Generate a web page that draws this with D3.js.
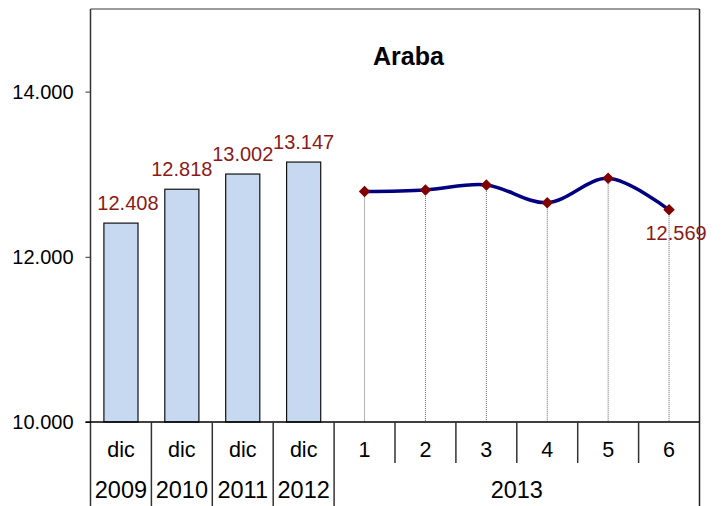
<!DOCTYPE html>
<html><head><meta charset="utf-8">
<script src="https://cdn.jsdelivr.net/npm/d3@7"></script>
<style>html,body{margin:0;padding:0;background:#fff;}svg{display:block;font-family:"Liberation Sans",Arial,sans-serif;}</style>
</head><body>
<svg id="c" width="723" height="506"></svg>
<script>
const title = "Araba";
const categories = ["dic","dic","dic","dic","1","2","3","4","5","6"];
const yearLabels = ["2009","2010","2011","2012","2013"];
const barValues = [12408, 12818, 13002, 13147];
const barLabels = ["12.408","12.818","13.002","13.147"];
const monthValues = [12790, 12810, 12870, 12655, 12950, 12569];
const monthLabels = ["","","","","","12.569"];
const yTicks = [10000, 12000, 14000];
const yTickLabels = ["10.000","12.000","14.000"];

const svg = d3.select("#c");
const L = 90.5, R = 699.5, T = 9, B = 422;
const x = d3.scaleBand().domain(d3.range(categories.length)).range([L, R]).padding(0);
const y = d3.scaleLinear().domain([10000, 15000]).range([B, T]);
const bw = x.bandwidth();
const cx = i => x(i) + bw / 2;
const labelColor = "#8B1A1A";

// plot frame
svg.append("line").attr("x1", L).attr("x2", R).attr("y1", T).attr("y2", T).attr("stroke", "#7a7a7a").attr("stroke-width", 1.5);
svg.append("line").attr("x1", R).attr("x2", R).attr("y1", T).attr("y2", 506).attr("stroke", "#222").attr("stroke-width", 1.5);

// y axis
const yAxis = d3.axisLeft(y).tickValues(yTicks).tickFormat((d, i) => yTickLabels[i]).tickSize(5).tickPadding(12);
const ya = svg.append("g").attr("transform", `translate(${L},0)`).call(yAxis);
ya.select(".domain").remove();
ya.selectAll(".tick line").attr("stroke", "#333");
ya.selectAll(".tick text").attr("font-size", 20).attr("fill", "#000").attr("font-family", "Liberation Sans, Arial, sans-serif");
svg.append("line").attr("x1", L).attr("x2", L).attr("y1", T).attr("y2", 506).attr("stroke", "#333").attr("stroke-width", 1.5);

// bars
svg.selectAll("rect.bar").data(barValues).enter().append("rect")
  .attr("x", (d, i) => cx(i) - bw * 0.28)
  .attr("width", bw * 0.56)
  .attr("y", d => y(d))
  .attr("height", d => B - y(d))
  .attr("fill", "#C6D9F0").attr("stroke", "#111").attr("stroke-width", 1.2);
svg.selectAll("text.blab").data(barValues).enter().append("text")
  .attr("x", (d, i) => cx(i) + (i === 0 ? 7 : 0))
  .attr("y", d => y(d) - 13)
  .attr("text-anchor", "middle").attr("font-size", 20).attr("fill", labelColor)
  .text((d, i) => barLabels[i]);

// drop lines
const mIdx = monthValues.map((v, i) => i + barValues.length);
svg.selectAll("line.drop").data(monthValues).enter().append("line")
  .attr("x1", (d, i) => cx(mIdx[i])).attr("x2", (d, i) => cx(mIdx[i]))
  .attr("y1", d => y(d)).attr("y2", B)
  .attr("stroke", "#666").attr("stroke-width", 1).attr("stroke-dasharray", "1,1");

// smooth line
const line = d3.line().x((d, i) => cx(mIdx[i])).y(d => y(d)).curve(d3.curveCatmullRom.alpha(0.5));
svg.append("path").datum(monthValues).attr("d", line)
  .attr("fill", "none").attr("stroke", "#000080").attr("stroke-width", 3.5);

// markers
svg.selectAll("path.mk").data(monthValues).enter().append("path")
  .attr("d", d3.symbol().type(d3.symbolSquare).size(66))
  .attr("transform", (d, i) => `translate(${cx(mIdx[i])},${y(d)}) rotate(45)`)
  .attr("fill", "#800000");
svg.selectAll("text.mlab").data(monthValues).enter().append("text")
  .attr("x", (d, i) => cx(mIdx[i]) + 7)
  .attr("y", d => y(d) + 30)
  .attr("text-anchor", "middle").attr("font-size", 20).attr("fill", labelColor)
  .text((d, i) => monthLabels[i]);

// x axis line
svg.append("line").attr("x1", L - 5).attr("x2", R).attr("y1", B).attr("y2", B).attr("stroke", "#000").attr("stroke-width", 1.5);

// category separators
const seps = d3.range(1, categories.length);
svg.selectAll("line.sep").data(seps).enter().append("line")
  .attr("x1", d => x(d)).attr("x2", d => x(d))
  .attr("y1", B).attr("y2", d => d <= barValues.length ? 506 : 463)
  .attr("stroke", "#333").attr("stroke-width", 1.5);

// category labels
svg.selectAll("text.cat").data(categories).enter().append("text")
  .attr("x", (d, i) => cx(i)).attr("y", 457)
  .attr("text-anchor", "middle").attr("font-size", 21.5).attr("fill", "#000")
  .text(d => d);

// year labels
const yearCenters = [0, 1, 2, 3].map(cx).concat([(x(4) + R) / 2]);
svg.selectAll("text.yr").data(yearLabels).enter().append("text")
  .attr("x", (d, i) => yearCenters[i]).attr("y", 498)
  .attr("text-anchor", "middle").attr("font-size", 23.5).attr("fill", "#000")
  .text(d => d);

// title
svg.append("text").attr("x", 408.5).attr("y", 65).attr("text-anchor", "middle")
  .attr("font-size", 25).attr("font-weight", "bold").attr("fill", "#000").text(title);
</script>
</body></html>
